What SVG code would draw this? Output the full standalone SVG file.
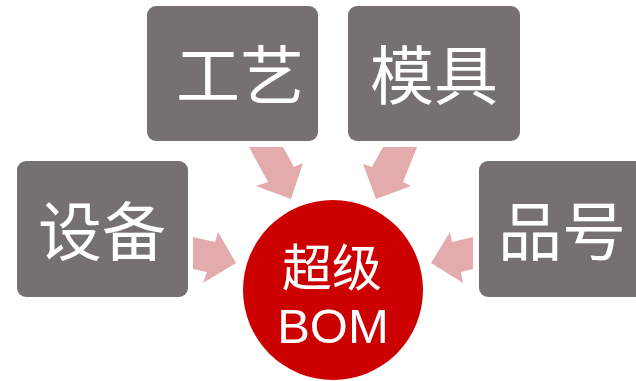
<svg xmlns="http://www.w3.org/2000/svg" width="636" height="381" viewBox="0 0 636 381">
<style>
.box{fill:#767170;}
.arr{fill:#e3abab;}
.t{font-family:"Liberation Sans","Noto Sans CJK SC",sans-serif;fill:#ffffff;text-anchor:middle;}
.big{font-size:64px;}
.mid{font-size:50px;}
.lat{font-size:49px;}
</style>
<rect width="636" height="381" fill="#ffffff"/>
<g id="connectors">
<polygon class="arr" points="249,147 283,147 294,167 303,163 291,199 256,186 268,182"/>
<polygon class="arr" points="417,147 383,147 372,167 363,164 376,199 411,186 403,182"/>
<polygon class="arr" points="193,237 215,242 218,232 236,263 203,283 207,272 193,269"/>
<polygon class="arr" points="473,237 452,242 450,232 431,263 463,283 461,272 473,269"/>
</g>
<g id="node-gongyi">
<rect class="box" x="147" y="6" width="171" height="135" rx="9"/>
<text class="t big" x="240" y="99">工艺</text>
</g>
<g id="node-moju">
<rect class="box" x="348" y="6" width="172" height="135" rx="9"/>
<text class="t big" x="434" y="99">模具</text>
</g>
<g id="node-shebei">
<rect class="box" x="17" y="161" width="171" height="136" rx="9"/>
<text class="t big" x="102" y="255">设备</text>
</g>
<g id="node-pinhao">
<rect class="box" x="479" y="161" width="170" height="136" rx="9"/>
<text class="t big" x="562" y="255">品号</text>
</g>
<g id="node-bom">
<circle cx="333" cy="290" r="90" fill="#cc0000"/>
<text class="t mid" x="332" y="286">超级</text>
<text class="t lat" x="333" y="343">BOM</text>
</g>
</svg>
